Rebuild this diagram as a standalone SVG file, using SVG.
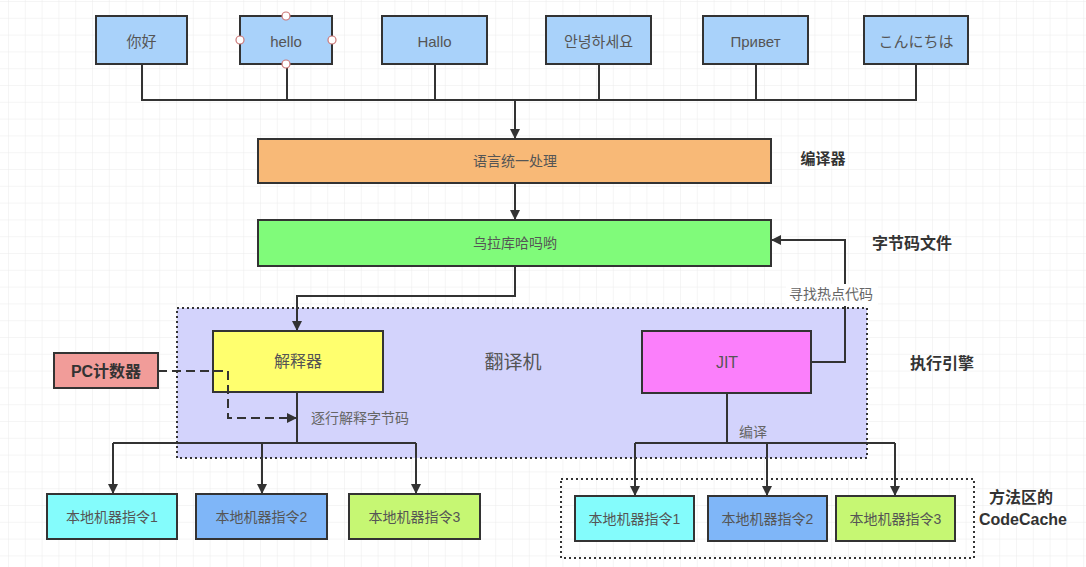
<svg xmlns="http://www.w3.org/2000/svg" width="1086" height="567" viewBox="0 0 1086 567">
<defs>
<pattern id="grid" x="8" y="1" width="16.8" height="16.8" patternUnits="userSpaceOnUse">
<path d="M0 0 V16.8 M0 0 H16.8" fill="none" stroke="#ececec" stroke-width="1"/>
</pattern>
<marker id="arr" viewBox="0 0 10 10" refX="10" refY="5" markerWidth="10" markerHeight="10" markerUnits="userSpaceOnUse" orient="auto">
<path d="M0 0 L10 5 L0 10 z" fill="#333"/>
</marker>
</defs>
<style>
.box{stroke:#333;stroke-width:2}
.t{font-family:"Liberation Sans","Noto Sans CJK SC","Noto Sans CJK KR","Noto Sans CJK JP",sans-serif;fill:#555;text-anchor:middle;dominant-baseline:central}
.top{font-size:15px}
.n{font-size:14px}
.b{font-size:16px;font-weight:bold;fill:#333}
.lab{font-size:14px;fill:#666}
.ln{fill:none;stroke:#333;stroke-width:2}
.dot{stroke:#333;stroke-width:2;stroke-dasharray:2 3}
.handle{fill:#fff;stroke:#c77;stroke-width:1.2}
</style>
<rect width="1086" height="567" fill="#fff"/>
<rect width="1086" height="567" fill="url(#grid)"/>

<g id="engine">
<rect x="177" y="308" width="690" height="150" fill="#d3d3fc" class="dot"/>
<text class="t" x="513" y="362" style="font-size:19px">翻译机</text>
</g>
<g id="codecache">
<rect x="561" y="479" width="413" height="79" fill="none" class="dot"/>
</g>

<g id="n-nihao"><rect class="box" x="96" y="16" width="91" height="48" fill="#a9d2fa"/><text class="t top" x="141.5" y="41">你好</text></g>
<g id="n-hello"><rect class="box" x="240" y="16" width="92" height="48" fill="#a9d2fa"/><text class="t top" x="286" y="41">hello</text></g>
<g id="n-hallo"><rect class="box" x="382" y="16" width="105" height="48" fill="#a9d2fa"/><text class="t top" x="434.5" y="41">Hallo</text></g>
<g id="n-ko"><rect class="box" x="546" y="16" width="105" height="48" fill="#a9d2fa"/><text class="t top" x="598.5" y="41">안녕하세요</text></g>
<g id="n-ru"><rect class="box" x="703" y="16" width="105" height="48" fill="#a9d2fa"/><text class="t top" x="755.5" y="41">Привет</text></g>
<g id="n-ja"><rect class="box" x="864" y="16" width="104" height="48" fill="#a9d2fa"/><text class="t top" x="916" y="41">こんにちは</text></g>

<g id="n-unify"><rect class="box" x="258" y="139" width="513" height="44" fill="#f8b977"/><text class="t n" x="515" y="161">语言统一处理</text></g>
<g id="l-compiler"><text class="t b" x="823" y="158" style="font-size:15px">编译器</text></g>
<g id="n-bytecode"><rect class="box" x="258" y="220" width="513" height="46" fill="#80fb7a"/><text class="t n" x="515" y="243">乌拉库哈吗哟</text></g>
<g id="l-bytecode"><text class="t b" x="912" y="243">字节码文件</text></g>

<g id="n-interp"><rect class="box" x="213" y="331" width="170" height="61" fill="#ffff6e"/><text class="t" x="298" y="361" style="font-size:16px">解释器</text></g>
<g id="n-pc"><rect class="box" x="54" y="353" width="104" height="35" fill="#f19c99"/><text class="t b" x="106" y="371">PC计数器</text></g>
<g id="n-jit"><rect class="box" x="642" y="331" width="169" height="62" fill="#fb7ffb"/><text class="t" x="727" y="362" style="font-size:16px">JIT</text></g>
<g id="l-engine"><text class="t b" x="942" y="363">执行引擎</text></g>

<g id="n-l1"><rect class="box" x="47" y="494" width="130" height="45" fill="#84fcfc"/><text class="t n" x="112" y="517">本地机器指令1</text></g>
<g id="n-l2"><rect class="box" x="196" y="494" width="131" height="45" fill="#7fb6f8"/><text class="t n" x="261.5" y="517">本地机器指令2</text></g>
<g id="n-l3"><rect class="box" x="349" y="494" width="131" height="45" fill="#c6f773"/><text class="t n" x="414.5" y="517">本地机器指令3</text></g>
<g id="n-r1"><rect class="box" x="575" y="496" width="119" height="45" fill="#84fcfc"/><text class="t n" x="634.5" y="519">本地机器指令1</text></g>
<g id="n-r2"><rect class="box" x="708" y="496" width="119" height="45" fill="#7fb6f8"/><text class="t n" x="767.5" y="519">本地机器指令2</text></g>
<g id="n-r3"><rect class="box" x="836" y="496" width="119" height="45" fill="#c6f773"/><text class="t n" x="895.5" y="519">本地机器指令3</text></g>
<g id="l-codecache"><text class="t b" x="1021" y="497">方法区的</text><text class="t b" x="1023" y="519">CodeCache</text></g>

<g id="connectors">
<path class="ln" d="M142 64 V100 H916 V64 M287 64 V100 M435 64 V100 M599 64 V100 M756 64 V100"/>
<path class="ln" d="M515 100 V139" marker-end="url(#arr)"/>
<path class="ln" d="M515 183 V220" marker-end="url(#arr)"/>
<path class="ln" d="M515 266 V296 H297 V331" marker-end="url(#arr)"/>
<path class="ln" d="M811 362 H845 V240 H771" marker-end="url(#arr)"/>
<path class="ln" d="M158 371 H228 V418 H297" stroke-dasharray="9 5" marker-end="url(#arr)"/>
<path class="ln" d="M297 392 V443 M113 443 H416"/>
<path class="ln" d="M113 443 V494" marker-end="url(#arr)"/>
<path class="ln" d="M262 443 V494" marker-end="url(#arr)"/>
<path class="ln" d="M416 443 V494" marker-end="url(#arr)"/>
<path class="ln" d="M727 393 V443 M635 443 H895"/>
<path class="ln" d="M635 443 V496" marker-end="url(#arr)"/>
<path class="ln" d="M767 443 V496" marker-end="url(#arr)"/>
<path class="ln" d="M895 443 V496" marker-end="url(#arr)"/>
<rect x="786" y="284" width="92" height="22" fill="#fff"/>
<text class="t lab" x="831" y="294">寻找热点代码</text>
<text class="t lab" x="360" y="418">逐行解释字节码</text>
<text class="t lab" x="753" y="432">编译</text>
</g>

<g id="handles">
<circle class="handle" cx="286" cy="16" r="4"/><circle class="handle" cx="286" cy="64" r="4"/><circle class="handle" cx="240" cy="40" r="4"/><circle class="handle" cx="332" cy="40" r="4"/>
</g>
</svg>
